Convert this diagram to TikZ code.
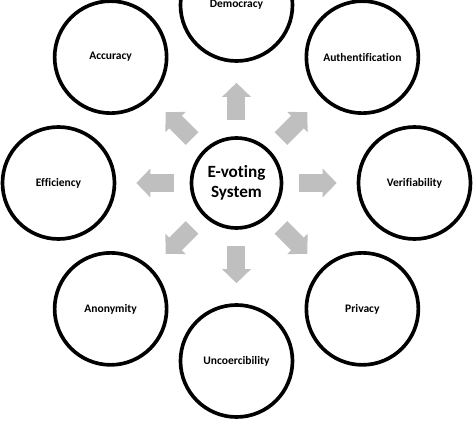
\documentclass[tikz,border=0pt]{standalone}
\usepackage{fontspec}
\setmainfont[Ligatures=NoCommon]{Carlito}
\usetikzlibrary{arrows.meta}
\definecolor{arrowgray}{RGB}{191,191,191}
\tikzset{
  prop/.style={circle,draw,line width=2.6pt,minimum size=2.8cm,inner sep=0pt,
    font=\bfseries\fontsize{8.2}{10}\selectfont},
  core/.style={circle,draw,line width=2.6pt,minimum size=2.25cm,inner sep=0pt,
    align=center,font=\bfseries\fontsize{12.2}{14}\selectfont},
  bigarrow/.style={arrowgray,line width=0.45cm,-{Triangle[length=0.35cm,width=0.7cm]},
    shorten <=0.4cm,shorten >=0.5cm}
}
\begin{document}
\begin{tikzpicture}
\useasboundingbox (-5.9125,-5.95) rectangle (5.9375,4.575);
\node[core] (sys) at (0,0) {E-voting\\System};
\node[prop] (dem) at (90:4.45) {Democracy};
\node[prop] (auth) at (45:4.45) {Authentification};
\node[prop] (ver) at (0:4.45) {Verifiability};
\node[prop] (priv) at (-45:4.45) {Privacy};
\node[prop] (unc) at (-90:4.45) {Uncoercibility};
\node[prop] (anon) at (-135:4.45) {Anonymity};
\node[prop] (eff) at (180:4.45) {Efficiency};
\node[prop] (acc) at (135:4.45) {Accuracy};
\foreach \n in {dem,auth,ver,priv,unc,anon,eff,acc} {
  \draw[bigarrow] (sys) -- (\n);
}
\end{tikzpicture}
\end{document}
